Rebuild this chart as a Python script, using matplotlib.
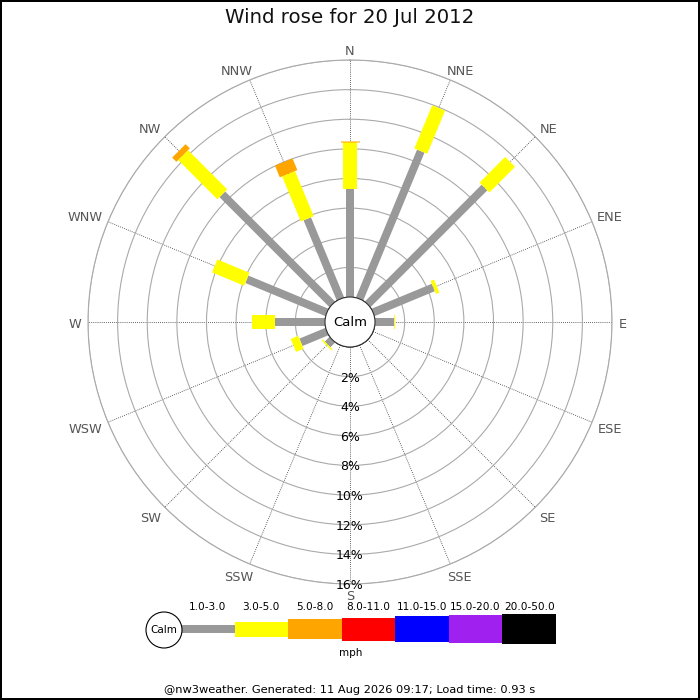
import numpy as np
import matplotlib
matplotlib.use("Agg")
import matplotlib.pyplot as plt
from matplotlib.patches import Circle

# ---- data ----
directions = ['N', 'NNE', 'NE', 'ENE', 'E', 'ESE', 'SE', 'SSE',
              'S', 'SSW', 'SW', 'WSW', 'W', 'WNW', 'NW', 'NNW']
speed_bins = ['1.0-3.0', '3.0-5.0', '5.0-8.0', '8.0-11.0', '11.0-15.0', '15.0-20.0', '20.0-50.0']
bin_colors = ['#999999', '#ffff00', '#ffa500', '#ff0000', '#0000ff', '#a020f0', '#000000']
legend_heights_px = [8, 15, 20, 23, 26, 28, 30]

pct_1_3 = [7.3, 10.8, 11.15, 4.4, 1.25, 0, 0, 0, 0, 0, 0.45, 1.9, 3.4, 5.85, 10.5, 5.85]
pct_3_5 = [3.15, 3.15, 2.45, 0.25, 0.1, 0, 0, 0, 0, 0, 0.1, 0.55, 1.55, 2.35, 3.75, 3.3]
pct_5_8 = [0.1, 0, 0, 0, 0, 0, 0, 0, 0, 0, 0, 0, 0, 0, 0.4, 0.85]
series = [pct_1_3, pct_3_5, pct_5_8]

ring_ticks = [2, 4, 6, 8, 10, 12, 14, 16]
title = 'Wind rose for 20 Jul 2012'
footer = '@nw3weather. Generated: 11 Aug 2026 09:17; Load time: 0.93 s'

# ---- figure ----
W = H = 700
PT = 72 / 100  # points per pixel
fig = plt.figure(figsize=(7, 7), dpi=100, linewidth=1.5, edgecolor='black', facecolor='white')

cx, cy, R = 350, 322, 262
calm_px = 25
ax = fig.add_axes([(cx - R) / W, (H - cy - R) / H, 2 * R / W, 2 * R / H], projection='polar')
ax.set_theta_zero_location('N')
ax.set_theta_direction(-1)
ax.set_ylim(0, 16)
ax.set_rorigin(-calm_px / ((R - calm_px) / 16))

theta = np.deg2rad(np.arange(16) * 22.5)
ax.set_xticks(theta)
ax.set_xticklabels([])
ax.set_yticks(ring_ticks)
ax.set_yticklabels([])
ax.tick_params(length=0)
ax.xaxis.grid(True, color='#333333', linestyle=(0, (1, 1.5)), linewidth=0.6)
ax.yaxis.grid(True, color='#aaaaaa', linestyle='-', linewidth=0.8)
ax.spines['polar'].set_color('#aaaaaa')
ax.spines['polar'].set_linewidth(0.8)
ax.set_facecolor('white')

# bars as constant-width radial segments
seg_width_px = [8, 14, 19]
for i, th in enumerate(theta):
    base = 0.0
    for k, s in enumerate(series):
        v = s[i]
        if v > 0:
            ax.plot([th, th], [base, base + v], color=bin_colors[k],
                    linewidth=seg_width_px[k] * PT,
                    solid_capstyle='butt', zorder=3 + k, clip_on=False)
        base += v

# direction labels: (x gap px, y gap px) for the right half, mirrored on the left
right_gaps = {0: (0, 5), 1: (-3.5, 5), 2: (4, 4), 3: (5, 1), 4: (7, 0),
              5: (6, 1), 6: (4, 5), 7: (-3.5, 6.5), 8: (0, 6.5)}
for i, (th, name) in enumerate(zip(theta, directions)):
    j = i if i <= 8 else 16 - i
    gx, gy = right_gaps[j]
    sx = np.sin(th)
    sy = np.cos(th)
    if abs(sx) < 1e-6:
        ha, dx = 'center', 0
    elif sx > 0:
        ha, dx = 'left', gx
    else:
        ha, dx = 'right', -gx
    if abs(sy) < 1e-6:
        va, dy = 'center_baseline', -0.5
    elif sy > 0:
        va, dy = 'baseline', gy
    else:
        va, dy = 'top', -gy
    ax.annotate(name, xy=(th, 16), xytext=(dx * PT, dy * PT), textcoords='offset points',
                ha=ha, va=va, fontsize=9.3, color='#555555', annotation_clip=False)

# ring labels along S axis
for r in ring_ticks:
    ax.text(np.pi, r + 0.1, f'{r}%', ha='center', va='center', fontsize=9, color='black',
            zorder=10)

# calm circle
ax.add_patch(Circle((0.5, 0.5), calm_px / (2 * R), transform=ax.transAxes, facecolor='white',
                    edgecolor='#333333', linewidth=0.8, zorder=20, clip_on=False))
ax.text(0.5, 0.5, 'Calm', transform=ax.transAxes, ha='center', va='center', fontsize=9.5,
        zorder=21)

fig.text(0.5, 1 - 17.5 / H, title, ha='center', va='center', fontsize=14.2, color='#111111')

# ---- legend ----
lx0, lx1, ly0, ly1 = 181, 556, 614, 644
lax = fig.add_axes([lx0 / W, (H - ly1) / H, (lx1 - lx0) / W, (ly1 - ly0) / H])
lax.set_xlim(-0.5, len(speed_bins) - 0.5)
lax.set_ylim(-15, 15)
lax.axis('off')
lax.bar(range(len(speed_bins)), legend_heights_px,
        bottom=[-h / 2 for h in legend_heights_px], width=1.0,
        color=bin_colors, edgecolor='none')
for i, lab in enumerate(speed_bins):
    lax.text(i, 22, lab, ha='center', va='center', fontsize=7.6, clip_on=False)

fig.patches.append(Circle((164 / W, 1 - 630 / H), 18 / W, transform=fig.transFigure,
                          facecolor='white', edgecolor='black', linewidth=0.8))
fig.text(164 / W, 1 - 630 / H, 'Calm', ha='center', va='center', fontsize=7.5)
fig.text(351 / W, 1 - 653 / H, 'mph', ha='center', va='center', fontsize=7.5)

fig.text(0.5, 1 - 690 / H, footer, ha='center', va='center', fontsize=8.2)

fig.savefig('out.png', dpi=100, facecolor='white', edgecolor='black')
